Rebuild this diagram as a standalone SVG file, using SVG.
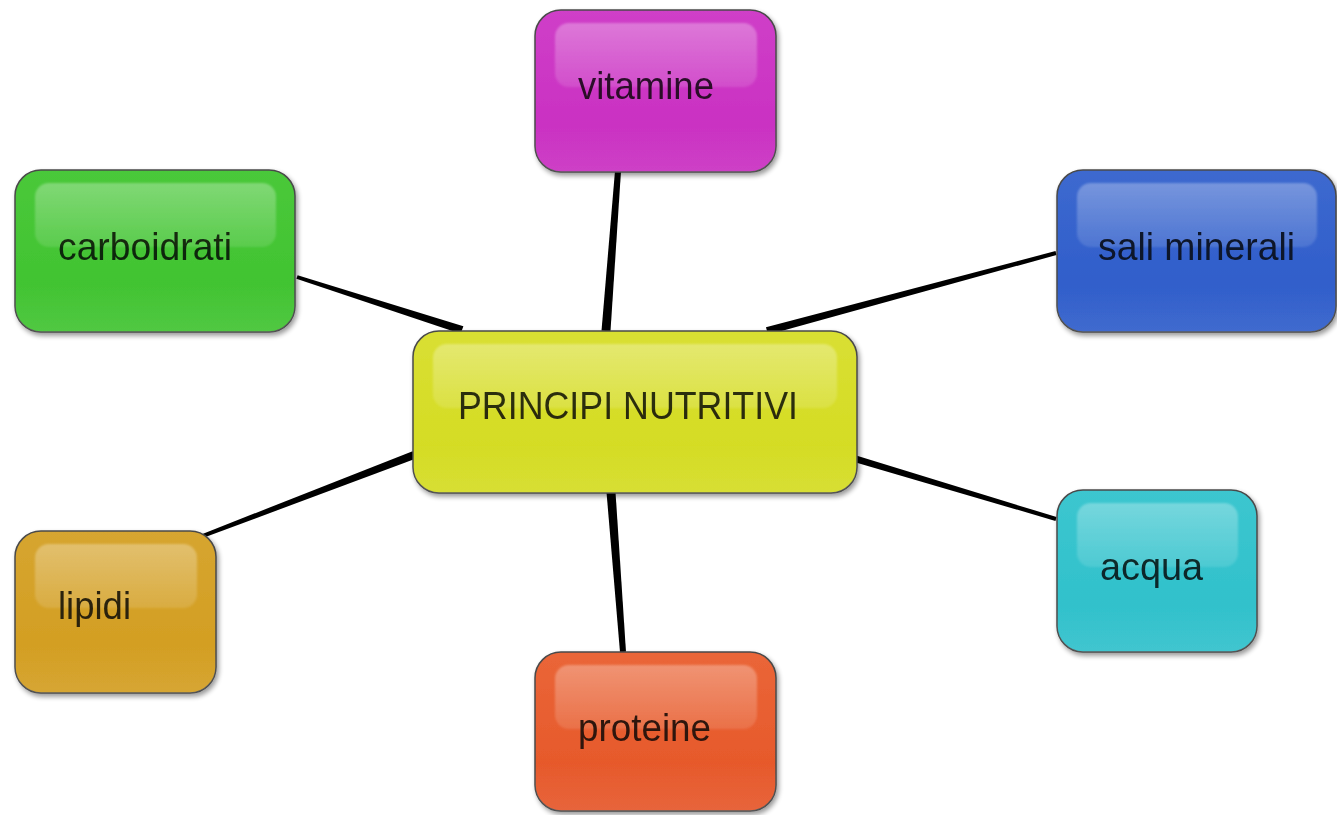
<svg xmlns="http://www.w3.org/2000/svg" width="1337" height="815" viewBox="0 0 1337 815">
<defs>
<filter id="sh" x="-10%" y="-10%" width="125%" height="130%">
<feGaussianBlur in="SourceAlpha" stdDeviation="2.5"/>
<feOffset dx="2" dy="3" result="b"/>
<feComponentTransfer><feFuncA type="linear" slope="0.4"/></feComponentTransfer>
<feMerge><feMergeNode/><feMergeNode in="SourceGraphic"/></feMerge>
</filter>
<filter id="soft" x="-5%" y="-10%" width="110%" height="120%">
<feGaussianBlur stdDeviation="1.2"/>
</filter>
<linearGradient id="hl" x1="0" y1="0" x2="0" y2="1">
<stop offset="0" stop-color="#fff" stop-opacity="0.3"/>
<stop offset="1" stop-color="#fff" stop-opacity="0.12"/>
</linearGradient>
<linearGradient id="rim" x1="0" y1="0" x2="0" y2="1">
<stop offset="0" stop-color="#fff" stop-opacity="0"/>
<stop offset="0.7" stop-color="#fff" stop-opacity="0"/>
<stop offset="1" stop-color="#fff" stop-opacity="0.1"/>
</linearGradient>
<linearGradient id="gV" x1="0" y1="0" x2="0" y2="1"><stop offset="0" stop-color="#cf3fc8"/><stop offset="1" stop-color="#c82bc0"/></linearGradient>
<linearGradient id="gC" x1="0" y1="0" x2="0" y2="1"><stop offset="0" stop-color="#4ac83a"/><stop offset="1" stop-color="#3ec22e"/></linearGradient>
<linearGradient id="gS" x1="0" y1="0" x2="0" y2="1"><stop offset="0" stop-color="#3d69cf"/><stop offset="1" stop-color="#2b5ac9"/></linearGradient>
<linearGradient id="gP" x1="0" y1="0" x2="0" y2="1"><stop offset="0" stop-color="#d9df33"/><stop offset="1" stop-color="#d3db1e"/></linearGradient>
<linearGradient id="gL" x1="0" y1="0" x2="0" y2="1"><stop offset="0" stop-color="#d6a530"/><stop offset="1" stop-color="#d29c1d"/></linearGradient>
<linearGradient id="gA" x1="0" y1="0" x2="0" y2="1"><stop offset="0" stop-color="#3cc6cf"/><stop offset="1" stop-color="#2cbfca"/></linearGradient>
<linearGradient id="gR" x1="0" y1="0" x2="0" y2="1"><stop offset="0" stop-color="#ea6638"/><stop offset="1" stop-color="#e55426"/></linearGradient>
</defs>
<style>
.box{stroke:#4a4a4a;stroke-width:1.5}
.hl{fill:url(#hl);filter:url(#soft)}
.rim{fill:url(#rim)}
.lbl{font-family:"Liberation Sans",Arial,sans-serif;font-size:39px;fill:#000;fill-opacity:0.8}
.edge{fill:#000}
</style>
<rect width="1337" height="815" fill="#fff"/>
<g id="connectors">
<polygon class="edge" points="463.38,326.2 297.61,275.15 296.39,278.85 460.62,333.8"/>
<polygon class="edge" points="768.04,334.86 1056.52,254.93 1055.48,251.07 765.96,327.14"/>
<polygon class="edge" points="610.49,331.3 620.99,171.19 615.01,170.81 601.51,330.7"/>
<polygon class="edge" points="412.57,451.26 199.3,535.17 200.7,538.83 415.43,458.74"/>
<polygon class="edge" points="855.0,462.3 1055.46,520.9 1056.54,517.1 857.0,455.7"/>
<polygon class="edge" points="606.51,492.3 620.01,652.19 625.99,651.81 615.49,491.7"/>
</g>
<g id="vitamine" filter="url(#sh)">
<rect class="box" x="535" y="10" width="241" height="162" rx="26" fill="url(#gV)"/>
<rect class="rim" x="535" y="10" width="241" height="162" rx="26"/>
<rect class="hl" x="555" y="23" width="202" height="64" rx="14"/>
<text class="lbl" x="578" y="99" textLength="136" lengthAdjust="spacingAndGlyphs">vitamine</text>
</g>
<g id="carboidrati" filter="url(#sh)">
<rect class="box" x="15" y="170" width="280" height="162" rx="26" fill="url(#gC)"/>
<rect class="rim" x="15" y="170" width="280" height="162" rx="26"/>
<rect class="hl" x="35" y="183" width="241" height="64" rx="14"/>
<text class="lbl" x="58" y="260" textLength="174" lengthAdjust="spacingAndGlyphs">carboidrati</text>
</g>
<g id="sali_minerali" filter="url(#sh)">
<rect class="box" x="1057" y="170" width="279" height="162" rx="26" fill="url(#gS)"/>
<rect class="rim" x="1057" y="170" width="279" height="162" rx="26"/>
<rect class="hl" x="1077" y="183" width="240" height="64" rx="14"/>
<text class="lbl" x="1098" y="260" textLength="197" lengthAdjust="spacingAndGlyphs">sali minerali</text>
</g>
<g id="principi_nutritivi" filter="url(#sh)">
<rect class="box" x="413" y="331" width="444" height="162" rx="26" fill="url(#gP)"/>
<rect class="rim" x="413" y="331" width="444" height="162" rx="26"/>
<rect class="hl" x="433" y="344" width="404" height="64" rx="14"/>
<text class="lbl" x="458" y="419" textLength="340" lengthAdjust="spacingAndGlyphs">PRINCIPI NUTRITIVI</text>
</g>
<g id="lipidi" filter="url(#sh)">
<rect class="box" x="15" y="531" width="201" height="162" rx="26" fill="url(#gL)"/>
<rect class="rim" x="15" y="531" width="201" height="162" rx="26"/>
<rect class="hl" x="35" y="544" width="162" height="64" rx="14"/>
<text class="lbl" x="58" y="619" textLength="73" lengthAdjust="spacingAndGlyphs">lipidi</text>
</g>
<g id="acqua" filter="url(#sh)">
<rect class="box" x="1057" y="490" width="200" height="162" rx="26" fill="url(#gA)"/>
<rect class="rim" x="1057" y="490" width="200" height="162" rx="26"/>
<rect class="hl" x="1077" y="503" width="161" height="64" rx="14"/>
<text class="lbl" x="1100" y="580" textLength="103" lengthAdjust="spacingAndGlyphs">acqua</text>
</g>
<g id="proteine" filter="url(#sh)">
<rect class="box" x="535" y="652" width="241" height="159" rx="26" fill="url(#gR)"/>
<rect class="rim" x="535" y="652" width="241" height="159" rx="26"/>
<rect class="hl" x="555" y="665" width="202" height="64" rx="14"/>
<text class="lbl" x="578" y="741" textLength="133" lengthAdjust="spacingAndGlyphs">proteine</text>
</g>
</svg>
